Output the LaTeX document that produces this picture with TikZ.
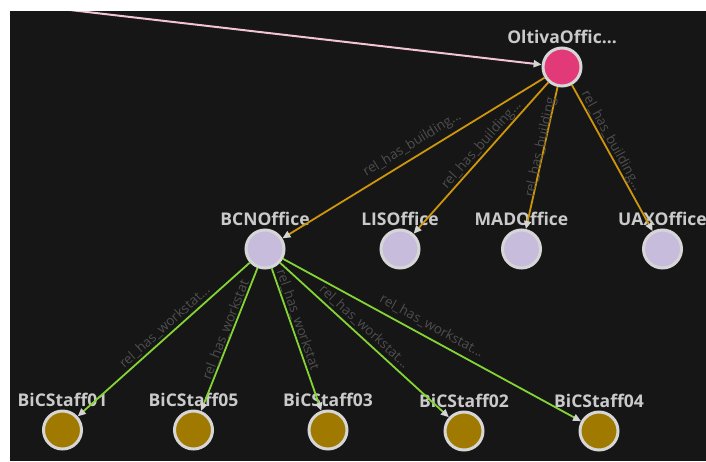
\documentclass[tikz,border=0pt]{standalone}
\usepackage{fontspec}
\setmainfont{Open Sans}
\usetikzlibrary{arrows.meta}

\definecolor{canvas}{RGB}{22,22,22}
\definecolor{ringgray}{RGB}{214,214,214}
\definecolor{tipgray}{RGB}{212,212,212}
\definecolor{hubpink}{RGB}{226,58,120}
\definecolor{officelav}{RGB}{200,188,220}
\definecolor{staffgold}{RGB}{160,122,0}
\definecolor{buildline}{RGB}{206,150,10}
\definecolor{workline}{RGB}{132,212,52}
\definecolor{linkpink}{RGB}{242,196,214}
\definecolor{nametext}{RGB}{202,202,202}
\definecolor{reltext}{RGB}{78,78,78}

\tikzset{
  gnode/.style={circle, draw=ringgray, line width=3pt, minimum size=38pt, inner sep=0pt,
    label={[nodename, label distance=2.5pt]above:#1}},
  nodename/.style={text=nametext, font=\bfseries\fontsize{17.5}{17.5}\selectfont, inner sep=0pt},
  hub/.style={gnode=#1, fill=hubpink},
  office/.style={gnode=#1, fill=officelav},
  staff/.style={gnode=#1, fill=staffgold},
  tipend/.style={-{Triangle[length=8pt, width=7pt, color=tipgray]}},
  buildedge/.style={draw=buildline, line width=1.8pt, tipend},
  workedge/.style={draw=workline, line width=1.8pt, tipend},
  linkedge/.style={draw=linkpink, line width=2pt, tipend},
  rel/.style={text=reltext, font=\fontsize{13.5}{13.5}\selectfont, inner sep=0pt, sloped}
}

\begin{document}
\begin{tikzpicture}[x=1pt, y=-1pt]
  % page and dark canvas
  \fill[white] (0,0) rectangle (706,461);
  \useasboundingbox (0,0) rectangle (706,461);
  \fill[canvas] (10,11) rectangle (706,461);

  % nodes
  \node[hub=OltivaOffic...] (olt) at (562,67) {};
  \node[office=BCNOffice] (bcn) at (265,249) {};
  \node[office=LISOffice] (lis) at (400,249) {};
  \node[office=MADOffice] (mad) at (521.5,249) {};
  \node[office=UAXOffice] (uax) at (662.5,249) {};
  \node[staff=BiCStaff01] (s01) at (62.5,430) {};
  \node[staff=BiCStaff05] (s05) at (193.5,430) {};
  \node[staff=BiCStaff03] (s03) at (328,430) {};
  \node[staff=BiCStaff02] (s02) at (464,431) {};
  \node[staff=BiCStaff04] (s04) at (599,431) {};

  % incoming link from outside the view
  \coordinate (src) at (0,1.9);
  \begin{scope}
    \clip (10,11) rectangle (706,461);
    \draw[linkedge] (src) -- (olt);
  \end{scope}

  % building relations
  \draw[buildedge] (olt) -- node[rel, pos=0.48, above=4.5pt] {rel\_has\_building...} (bcn);
  \draw[buildedge] (olt) -- node[rel, pos=0.45, above=0.5pt] {rel\_has\_building...} (lis);
  \draw[buildedge] (olt) -- node[rel, pos=0.43, above=-4.5pt] {rel\_has\_building} (mad);
  \draw[buildedge] (olt) -- node[rel, pos=0.41, above=-0.3pt] {rel\_has\_building...} (uax);

  % workstation relations
  \draw[workedge] (bcn) -- node[rel, pos=0.46, above=1.6pt] {rel\_has\_workstat...} (s01);
  \draw[workedge] (bcn) -- node[rel, pos=0.45, above=-0.4pt] {rel\_has\_workstat} (s05);
  \draw[workedge] (bcn) -- node[rel, pos=0.38, above=0.5pt] {rel\_has\_workstat} (s03);
  \draw[workedge] (bcn) -- node[rel, pos=0.46, above=2.6pt] {rel\_has\_workstat...} (s02);
  \draw[workedge] (bcn) -- node[rel, pos=0.48, above=5pt] {rel\_has\_workstat...} (s04);
\end{tikzpicture}
\end{document}
